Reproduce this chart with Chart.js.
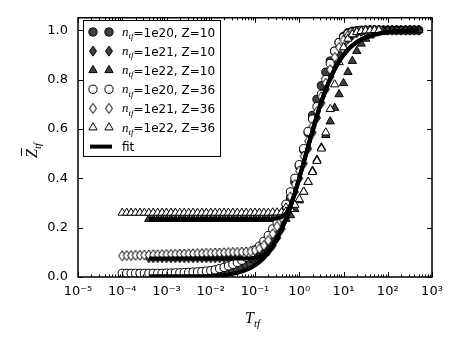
<!DOCTYPE html>
<html>
<head>
<meta charset="utf-8">
<title>Zbar vs T</title>
<script src="https://cdn.jsdelivr.net/npm/chart.js@4.4.0/dist/chart.umd.min.js"></script>
<style>
  html, body { margin: 0; padding: 0; background: #fff; }
</style>
</head>
<body>
<canvas id="chart" width="462" height="347"></canvas>
<script>
// --- data (log10 T_tf grid shared by all series) ---
const logT = [
  -4.0, -3.9, -3.8, -3.7, -3.6, -3.5, -3.4, -3.3, -3.2, -3.1,
  -3.0, -2.9, -2.8, -2.7, -2.6, -2.5, -2.4, -2.3, -2.2, -2.1,
  -2.0, -1.9, -1.8, -1.7, -1.6, -1.5, -1.4, -1.3, -1.2, -1.1,
  -1.0, -0.9, -0.8, -0.7, -0.6, -0.5, -0.4, -0.3, -0.2, -0.1,
   0.0,  0.1,  0.2,  0.3,  0.4,  0.5,  0.6,  0.7,  0.8,  0.9,
   1.0,  1.1,  1.2,  1.3,  1.4,  1.5,  1.6,  1.7,  1.8,  1.9,
   2.0,  2.1,  2.2,  2.3,  2.4,  2.5,  2.6,  2.7
];

const densities = ['1e20', '1e21', '1e22'];
const charges = [10, 36];

const xTicks = [1e-5, 1e-4, 1e-3, 1e-2, 1e-1, 1e0, 1e1, 1e2, 1e3];
const yTicks = [0.0, 0.2, 0.4, 0.6, 0.8, 1.0];

// Z = 10 (filled markers)
const z10n20 = [
  null, null, null, null, null, null, 0.004, 0.004, 0.004, 0.004,
  0.004, 0.004, 0.004, 0.004, 0.004, 0.004, 0.005, 0.006, 0.007, 0.008,
  0.010, 0.012, 0.015, 0.018, 0.022, 0.027, 0.033, 0.040, 0.048, 0.058,
  0.070, 0.085, 0.103, 0.125, 0.152, 0.185, 0.225, 0.270, 0.320, 0.385,
  0.450, 0.515, 0.585, 0.655, 0.720, 0.775, 0.830, 0.875, 0.915, 0.950,
  0.975, 0.990, 0.996, 0.998, 1.000, 1.000, 1.000, 1.000, 1.000, 1.000,
  1.000, 1.000, 1.000, 1.000, 1.000, 1.000, 1.000, 1.000
];
const z10n21 = [
  null, null, null, null, null, null, 0.078, 0.078, 0.078, 0.078,
  0.078, 0.078, 0.078, 0.078, 0.078, 0.078, 0.078, 0.078, 0.078, 0.078,
  0.078, 0.078, 0.078, 0.078, 0.078, 0.078, 0.078, 0.078, 0.078, 0.078,
  0.080, 0.084, 0.092, 0.106, 0.128, 0.158, 0.195, 0.240, 0.290, 0.345,
  0.400, 0.460, 0.520, 0.585, 0.645, 0.705, 0.760, 0.810, 0.860, 0.905,
  0.940, 0.965, 0.980, 0.990, 0.995, 0.998, 0.999, 1.000, 1.000, 1.000,
  1.000, 1.000, 1.000, 1.000, 1.000, 1.000, 1.000, 1.000
];
const z10n22 = [
  null, null, null, null, null, null, 0.235, 0.235, 0.235, 0.235,
  0.235, 0.235, 0.235, 0.235, 0.235, 0.235, 0.235, 0.235, 0.235, 0.235,
  0.235, 0.235, 0.235, 0.235, 0.235, 0.235, 0.235, 0.235, 0.235, 0.235,
  0.235, 0.235, 0.235, 0.235, 0.235, 0.235, 0.235, 0.235, 0.250, 0.275,
  0.310, 0.345, 0.385, 0.430, 0.475, 0.525, 0.575, 0.630, 0.685, 0.740,
  0.785, 0.830, 0.875, 0.915, 0.945, 0.965, 0.978, 0.987, 0.993, 0.996,
  0.998, 0.999, 1.000, 1.000, 1.000, 1.000, 1.000, 1.000
];

// Z = 36 (open markers), measured up to T ~ 60
const z36n20 = [
  0.015, 0.015, 0.015, 0.015, 0.015, 0.015, 0.015, 0.015, 0.015, 0.015,
  0.016, 0.016, 0.017, 0.017, 0.018, 0.019, 0.020, 0.021, 0.022, 0.024,
  0.026, 0.029, 0.034, 0.039, 0.045, 0.051, 0.059, 0.068, 0.080, 0.095,
  0.110, 0.125, 0.145, 0.168, 0.195, 0.220, 0.255, 0.295, 0.345, 0.400,
  0.455, 0.520, 0.590, 0.640, 0.690, 0.740, 0.800, 0.865, 0.915, 0.950,
  0.970, 0.985, 0.992, 0.996, 0.998, 0.999, 1.000, 1.000, 1.000, null,
  null, null, null, null, null, null, null, null
];
const z36n21 = [
  0.086, 0.087, 0.087, 0.088, 0.088, 0.089, 0.089, 0.090, 0.090, 0.091,
  0.091, 0.092, 0.092, 0.093, 0.093, 0.094, 0.094, 0.095, 0.095, 0.096,
  0.096, 0.097, 0.097, 0.098, 0.099, 0.100, 0.100, 0.101, 0.102, 0.104,
  0.108, 0.115, 0.128, 0.148, 0.175, 0.205, 0.240, 0.280, 0.325, 0.375,
  0.430, 0.490, 0.550, 0.610, 0.670, 0.730, 0.785, 0.840, 0.890, 0.930,
  0.960, 0.978, 0.988, 0.994, 0.997, 0.998, 0.999, 1.000, 1.000, null,
  null, null, null, null, null, null, null, null
];
const z36n22 = [
  0.260, 0.260, 0.260, 0.260, 0.260, 0.260, 0.260, 0.260, 0.260, 0.260,
  0.260, 0.260, 0.260, 0.260, 0.260, 0.260, 0.260, 0.260, 0.260, 0.260,
  0.260, 0.260, 0.260, 0.260, 0.260, 0.260, 0.260, 0.260, 0.260, 0.260,
  0.260, 0.260, 0.260, 0.260, 0.261, 0.261, 0.262, 0.265, 0.275, 0.292,
  0.315, 0.345, 0.385, 0.425, 0.470, 0.520, 0.585, 0.680, 0.780, 0.870,
  0.930, 0.965, 0.983, 0.992, 0.996, 0.998, 0.999, 1.000, 1.000, null,
  null, null, null, null, null, null, null, null
];

// fits (one per plateau level)
const fitLow = [
  null, null, null, null, null, null, 0.003, 0.003, 0.003, 0.003,
  0.003, 0.003, 0.003, 0.003, 0.003, 0.003, 0.003, 0.003, 0.003, 0.0035,
  0.004, 0.0047, 0.0061, 0.008, 0.0103, 0.0133, 0.0172, 0.0222, 0.0286, 0.0368,
  0.0472, 0.0603, 0.0769, 0.0975, 0.1229, 0.1537, 0.1906, 0.234, 0.284, 0.339,
  0.400, 0.464, 0.528, 0.592, 0.653, 0.710, 0.760, 0.804, 0.842, 0.874,
  0.900, 0.921, 0.938, 0.951, 0.962, 0.970, 0.977, 0.982, 0.986, 0.989,
  0.992, 0.994, 0.995, 0.996, 0.997, 0.998, 0.998, 0.999
];
const fitMid = [
  null, null, null, null, null, null, 0.075, 0.075, 0.075, 0.075,
  0.075, 0.075, 0.075, 0.075, 0.075, 0.075, 0.075, 0.075, 0.075, 0.075,
  0.075, 0.075, 0.075, 0.075, 0.075, 0.075, 0.075, 0.075, 0.075, 0.076,
  0.078, 0.082, 0.090, 0.104, 0.126, 0.156, 0.192, 0.234, 0.284, 0.339,
  0.400, 0.464, 0.528, 0.592, 0.653, 0.710, 0.760, 0.804, 0.842, 0.874,
  0.900, 0.921, 0.938, 0.951, 0.962, 0.970, 0.977, 0.982, 0.986, 0.989,
  0.992, 0.994, 0.995, 0.996, 0.997, 0.998, 0.998, 0.999
];
const fitHigh = [
  null, null, null, null, null, null, 0.235, 0.235, 0.235, 0.235,
  0.235, 0.235, 0.235, 0.235, 0.235, 0.235, 0.235, 0.235, 0.235, 0.235,
  0.235, 0.235, 0.235, 0.235, 0.235, 0.235, 0.235, 0.235, 0.235, 0.235,
  0.235, 0.235, 0.235, 0.235, 0.235, 0.237, 0.242, 0.256, 0.290, 0.340,
  0.400, 0.464, 0.528, 0.592, 0.653, 0.710, 0.760, 0.804, 0.842, 0.874,
  0.900, 0.921, 0.938, 0.951, 0.962, 0.970, 0.977, 0.982, 0.986, 0.989,
  0.992, 0.994, 0.995, 0.996, 0.997, 0.998, 0.998, 0.999
];

// --- helpers ---
const mathFont = '"Liberation Serif", "DejaVu Serif", serif';
const textFont = '"DejaVu Sans", sans-serif';
const darkGray = '#404040';
const circleR = 4.1, triangleR = 4.8;

function points(values) {
    const pts = [];
    values.forEach(function (v, i) {
        if (v !== null) pts.push({ x: Math.pow(10, logT[i]), y: v });
    });
    return pts;
}

// thin diamond marker (matplotlib 'd')
function makeDiamond(fill) {
    const c = document.createElement('canvas');
    c.width = 10; c.height = 12;
    const g = c.getContext('2d');
    g.beginPath();
    g.moveTo(5, 1);
    g.lineTo(8.5, 6);
    g.lineTo(5, 11);
    g.lineTo(1.5, 6);
    g.closePath();
    g.fillStyle = fill;
    g.fill();
    g.lineWidth = 1;
    g.strokeStyle = '#000';
    g.stroke();
    return c;
}
const diamondFilled = makeDiamond(darkGray);
const diamondOpen = makeDiamond('#fff');

const supMap = { '0': '⁰', '1': '¹', '2': '²', '3': '³', '4': '⁴', '5': '⁵', '6': '⁶', '7': '⁷', '8': '⁸', '9': '⁹', '-': '⁻' };
function powLabel(v) {
    const e = Math.round(Math.log10(v));
    return '10' + String(e).split('').map(ch => supMap[ch]).join('');
}

function markerSet(values, style, filled, order) {
    const ds = {
        data: points(values),
        pointStyle: style,
        pointRadius: style === 'triangle' ? triangleR : circleR,
        backgroundColor: filled ? darkGray : '#fff',
        borderColor: '#000',
        borderWidth: 1,
        showLine: false,
        order: order
    };
    if (style === 'diamond') {
        ds.pointStyle = filled ? diamondFilled : diamondOpen;
        ds.pointRadius = 5;
    }
    return ds;
}

function fitSet(values) {
    return {
        data: points(values),
        showLine: true,
        borderColor: '#000',
        borderWidth: 4,
        pointRadius: 0,
        fill: false,
        order: 0
    };
}

// legend rows: [density index, charge index, marker, filled]
const legendRows = [
    [0, 0, 'circle', true],
    [1, 0, 'diamond', true],
    [2, 0, 'triangle', true],
    [0, 1, 'circle', false],
    [1, 1, 'diamond', false],
    [2, 1, 'triangle', false]
];

function drawMath(ctx, x, y, main, sub, size) {
    ctx.font = 'italic ' + size + 'px ' + mathFont;
    ctx.fillText(main, x, y);
    const w = ctx.measureText(main).width;
    ctx.font = 'italic ' + Math.round(size * 0.7) + 'px ' + mathFont;
    ctx.fillText(sub, x + w, y + size * 0.25);
    return x + w + ctx.measureText(sub).width;
}

// --- plugin: inward ticks, frame, legend, axis titles ---
const axesDecor = {
    id: 'axesDecor',
    afterDatasetsDraw(chart) {
        const ctx = chart.ctx;
        const a = chart.chartArea;
        const xs = chart.scales.x, ys = chart.scales.y;
        ctx.save();
        ctx.strokeStyle = '#000';
        ctx.lineWidth = 1;
        ctx.beginPath();
        xs.ticks.forEach(function (t) {
            const px = Math.round(xs.getPixelForValue(t.value)) + 0.5;
            const len = t.major ? 5 : 2.5;
            ctx.moveTo(px, a.bottom); ctx.lineTo(px, a.bottom - len);
            ctx.moveTo(px, a.top); ctx.lineTo(px, a.top + len);
        });
        ys.ticks.forEach(function (t) {
            const py = Math.round(ys.getPixelForValue(t.value)) + 0.5;
            ctx.moveTo(a.left, py); ctx.lineTo(a.left + 5, py);
            ctx.moveTo(a.right, py); ctx.lineTo(a.right - 5, py);
        });
        ctx.stroke();
        ctx.lineWidth = 1.5;
        ctx.strokeRect(a.left, a.top, a.right - a.left, a.bottom - a.top);
        ctx.restore();
    },
    afterDraw(chart) {
        const ctx = chart.ctx;
        const helpers = Chart.helpers;
        ctx.save();

        // legend box
        const bx = 83.5, by = 20.5, bw = 137, bh = 136;
        ctx.fillStyle = '#fff';
        ctx.fillRect(bx, by, bw, bh);
        ctx.strokeStyle = '#000';
        ctx.lineWidth = 1;
        ctx.strokeRect(bx, by, bw, bh);

        const rowY0 = 32, rowGap = 19.1;
        legendRows.forEach(function (r, k) {
            const cy = rowY0 + k * rowGap;
            [93, 109].forEach(function (mx) {
                let style = r[2];
                let radius = style === 'triangle' ? triangleR : circleR;
                if (style === 'diamond') { style = r[3] ? diamondFilled : diamondOpen; radius = 5; }
                ctx.fillStyle = r[3] ? darkGray : '#fff';
                ctx.strokeStyle = '#000';
                ctx.lineWidth = 1;
                helpers.drawPoint(ctx, { pointStyle: style, radius: radius, rotation: 0, borderWidth: 1 }, mx, cy);
            });
            ctx.fillStyle = '#000';
            ctx.textBaseline = 'alphabetic';
            ctx.textAlign = 'left';
            const ex = drawMath(ctx, 122, cy + 4, 'n', 'tf', 13);
            ctx.font = '12px ' + textFont;
            ctx.fillText('=' + densities[r[0]] + ', Z=' + charges[r[1]], ex, cy + 4.5);
        });
        // fit row
        const fy = rowY0 + 6 * rowGap;
        ctx.strokeStyle = '#000';
        ctx.lineWidth = 4;
        ctx.beginPath();
        ctx.moveTo(90, fy); ctx.lineTo(112, fy);
        ctx.stroke();
        ctx.fillStyle = '#000';
        ctx.font = '12px ' + textFont;
        ctx.fillText('fit', 122, fy + 4.5);

        // x title
        ctx.fillStyle = '#000';
        drawMath(ctx, 245, 323, 'T', 'tf', 16);

        // y title (rotated)
        ctx.translate(37, 158);
        ctx.rotate(-Math.PI / 2);
        ctx.font = 'italic 16px ' + mathFont;
        ctx.fillText('Z', 0, 0);
        const zw = ctx.measureText('Z').width;
        ctx.lineWidth = 1;
        ctx.beginPath();
        ctx.moveTo(2, -15.5); ctx.lineTo(zw + 1, -15.5);
        ctx.stroke();
        ctx.font = 'italic 11px ' + mathFont;
        ctx.fillText('tf', zw, 4);
        ctx.restore();
    }
};

// --- chart ---
const datasets = [
    fitSet(fitLow),
    fitSet(fitMid),
    fitSet(fitHigh),
    markerSet(z36n22, 'triangle', false, 1),
    markerSet(z36n21, 'diamond', false, 2),
    markerSet(z36n20, 'circle', false, 3),
    markerSet(z10n22, 'triangle', true, 4),
    markerSet(z10n21, 'diamond', true, 5),
    markerSet(z10n20, 'circle', true, 6)
];

new Chart(document.getElementById('chart'), {
    type: 'scatter',
    data: { datasets: datasets },
    options: {
        responsive: false,
        animation: false,
        devicePixelRatio: 1,
        events: [],
        layout: { padding: { top: 16, right: 30, left: 0, bottom: 0 } },
        plugins: { legend: { display: false }, tooltip: { enabled: false } },
        scales: {
            x: {
                type: 'logarithmic',
                min: 1e-5,
                max: 1e3,
                grid: { display: false, drawTicks: false },
                border: { display: false },
                afterBuildTicks: function (axis) {
                    const ticks = [];
                    xTicks.forEach(function (v, i) {
                        ticks.push({ value: v, major: true });
                        if (i < xTicks.length - 1) {
                            for (let m = 2; m <= 9; m++) ticks.push({ value: v * m, major: false });
                        }
                    });
                    axis.ticks = ticks;
                },
                afterFit: function (s) { s.height = 70; },
                ticks: {
                    autoSkip: false,
                    maxRotation: 0,
                    padding: 7,
                    color: '#000',
                    font: { family: textFont, size: 13 },
                    callback: function (v) {
                        return xTicks.indexOf(v) >= 0 ? powLabel(v) : '';
                    }
                }
            },
            y: {
                min: 0,
                max: 1.05,
                grid: { display: false, drawTicks: false },
                border: { display: false },
                afterBuildTicks: function (axis) {
                    axis.ticks = yTicks.map(v => ({ value: v, major: true }));
                },
                afterFit: function (s) { s.width = 78; },
                ticks: {
                    padding: 10,
                    color: '#000',
                    font: { family: textFont, size: 13 },
                    callback: function (v) { return v.toFixed(1); }
                }
            }
        }
    },
    plugins: [axesDecor]
});
</script>
</body>
</html>
